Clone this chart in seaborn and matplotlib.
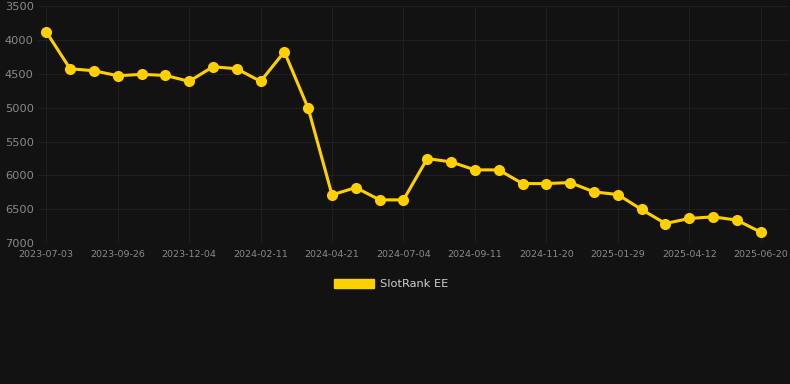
import pandas as pd
import seaborn as sns
import matplotlib.pyplot as plt
from matplotlib.patches import Patch

# rank values, one per snapshot (equally spaced on the chart)
ranks = [
    3880, 4425, 4454, 4528, 4508, 4523, 4611, 4395, 4425, 4611,
    4174, 5009, 6288, 6180, 6362, 6362, 5752, 5801, 5919, 5919,
    6121, 6121, 6106, 6244, 6283, 6504, 6711, 6637, 6612, 6661,
    6838,
]
tick_labels = [
    "2023-07-03", "2023-09-26", "2023-12-04", "2024-02-11", "2024-04-21",
    "2024-07-04", "2024-09-11", "2024-11-20", "2025-01-29", "2025-04-12",
    "2025-06-20",
]
y_ticks = [3500, 4000, 4500, 5000, 5500, 6000, 6500, 7000]
series_name = "SlotRank EE"

BG = "#121212"
GOLD = "#FFD000"
GRID = "#1f1f1f"
TXT = "#8a8a8a"

df = pd.DataFrame({"idx": range(len(ranks)), "rank": ranks})

sns.set_style("dark")
fig = plt.figure(figsize=(7.9, 3.84), dpi=100, facecolor=BG)
ax = fig.add_axes([0.048, 0.367, 0.951, 0.617])
ax.set_facecolor(BG)

sns.lineplot(
    data=df,
    x="idx",
    y="rank",
    ax=ax,
    color=GOLD,
    linewidth=2.2,
    marker="o",
    markersize=8,
    markeredgewidth=0,
    legend=False,
)

ax.set_ylim(7000, 3500)
ax.set_yticks(y_ticks)
ax.set_xlim(-0.35, len(ranks) - 1 + 1.2)
ax.set_xticks(range(0, len(ranks), 3))
ax.set_xticklabels(tick_labels)

ax.grid(True, color=GRID, linewidth=0.8)
ax.set_axisbelow(True)
for s in ax.spines.values():
    s.set_visible(False)
ax.tick_params(axis="y", colors=TXT, labelsize=8.2, length=0, pad=3)
ax.tick_params(axis="x", colors=TXT, labelsize=6.8, length=0, pad=5)
ax.set_xlabel("")
ax.set_ylabel("")

fig.legend(
    handles=[Patch(facecolor=GOLD, edgecolor=GOLD)],
    labels=[series_name],
    loc="center",
    bbox_to_anchor=(0.495, 0.26),
    frameon=False,
    fontsize=8.2,
    labelcolor="#d0d0d0",
    handlelength=3.5,
    handleheight=0.9,
    handletextpad=0.5,
)

fig.savefig("out.png", dpi=100, facecolor=BG)
